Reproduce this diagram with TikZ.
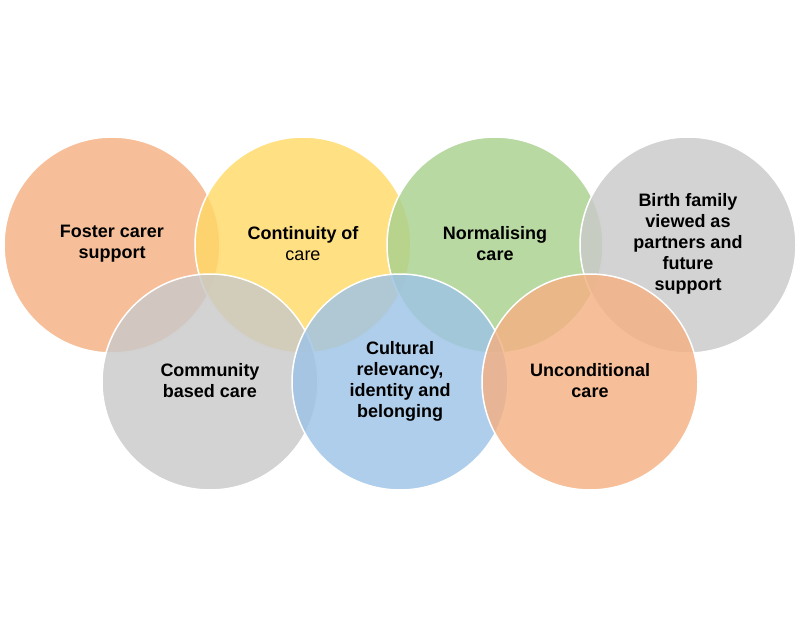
\documentclass[tikz,border=0pt]{standalone}
\usepackage{fontspec}
\setmainfont{Liberation Sans}
\begin{document}
\begin{tikzpicture}[x=1pt,y=-1pt,
  ring/.style={circle,minimum size=216pt,inner sep=0pt,fill opacity=0.82,text opacity=1,draw=white,line width=1.5pt},
  lbl/.style={align=center,font=\fontsize{18}{21}\selectfont\bfseries,text=black}]
\useasboundingbox (0,0) rectangle (800,626);
\definecolor{orng}{HTML}{F4B183}
\definecolor{yel}{HTML}{FFD966}
\definecolor{grn}{HTML}{A9D18E}
\definecolor{gry}{HTML}{C9C9C9}
\definecolor{blu}{HTML}{9DC3E6}
\node[ring,fill=orng] (c1) at (112,245) {};
\node[ring,fill=yel] (c2) at (303,245) {};
\node[ring,fill=grn] (c3) at (495,245) {};
\node[ring,fill=gry] (c4) at (688,245) {};
\node[ring,fill=gry] (c5) at (210,382) {};
\node[ring,fill=blu] (c6) at (400,382) {};
\node[ring,fill=orng] (c7) at (590,382) {};
\node[lbl] (t1) at (112,244) {Foster carer\\support};
\node[lbl] (t2) at (303,244) {Continuity of\\\mdseries care};
\node[lbl] (t3) at (495,244) {Normalising\\care};
\node[lbl] (t4) at (688,244) {Birth family\\viewed as\\partners and\\future\\support};
\node[lbl] (t5) at (210,381) {Community\\based care};
\node[lbl] (t6) at (400,381) {Cultural\\relevancy,\\identity and\\belonging};
\node[lbl] (t7) at (590,381) {Unconditional\\care};
\end{tikzpicture}
\end{document}
